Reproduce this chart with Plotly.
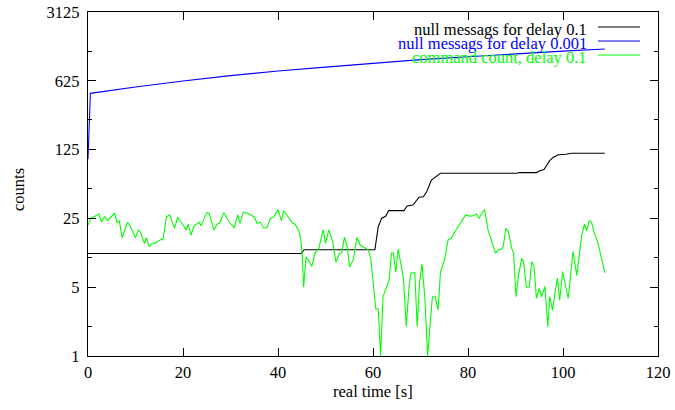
import plotly.graph_objects as go

# ---- data -------------------------------------------------------------
# null messages, delay 0.1
null_01_t = [0.0, 44.9, 45.5, 60.4, 61.1, 61.8, 62.7, 63.3, 66.5, 67.2, 68.4,
             69.7, 70.6, 71.3, 72.3, 73.4, 74.2, 90.2, 90.8, 94.4, 95.1, 96.0,
             97.2, 97.9, 99.0, 100.6, 101.8, 108.8]
null_01_v = [11, 11, 12, 12, 20.6, 25, 26.4, 30, 30, 33.4, 34.2,
             41, 41.5, 46.7, 61.4, 67.3, 71.8, 71.8, 73, 73, 76.3, 78.6,
             96.5, 104, 111, 112, 114.6, 114.6]

# null messages, delay 0.001
null_0001_t = [0.0, 0.5, 10, 20, 30, 40, 50, 60, 70, 80, 90, 100, 108.8]
null_0001_v = [100, 466, 540, 623, 705, 786, 860, 940, 1025, 1098, 1180, 1250, 1315]

# command count, delay 0.1
cmd_t = [0.0, 0.6, 2.3, 2.8, 3.5, 4.1, 5.6, 6.1, 6.6, 7.2, 8.3, 8.8, 10.0, 10.6,
         11.0, 11.9, 12.3, 12.9, 13.5, 14.2, 15.5, 15.8, 16.5, 17.2, 18.2, 18.9,
         20.0, 20.7, 21.1, 21.7, 22.3, 23.4, 23.8, 25.0, 25.5, 26.5, 27.2, 27.7,
         28.6, 29.7, 30.8, 31.5, 32.0, 32.7, 34.0, 35.0, 35.6, 36.3, 37.0, 37.7,
         38.0, 38.4, 39.1, 40.0, 40.7, 41.2, 42.1, 43.1, 43.6, 44.4, 44.8, 45.1,
         45.4, 45.9, 46.6, 47.1, 47.8, 48.6, 49.5, 50.0, 50.7, 51.5, 52.2, 53.0,
         53.4, 54.0, 54.5, 55.1, 55.9, 56.6, 57.3, 58.3, 59.0, 59.5, 59.9, 60.6,
         61.1, 61.6, 62.1, 63.0, 63.4, 63.9, 64.3, 64.8, 65.3, 66.4, 67.0, 67.6,
         68.0, 68.8, 69.3, 69.8, 70.3, 70.9, 71.5, 72.0, 72.5, 73.1, 73.7, 74.2,
         75.1, 75.8, 76.5, 77.2, 77.7, 78.6, 79.5, 80.4, 81.0, 81.8, 82.3, 83.1,
         83.5, 84.2, 85.0, 85.8, 86.4, 87.0, 87.4, 88.0, 88.5, 89.2, 89.6, 90.1,
         90.6, 91.3, 91.7, 92.3, 92.9, 93.4, 93.9, 94.4, 95.0, 95.5, 96.2, 96.8,
         97.2, 97.8, 98.8, 99.3, 99.9, 101.1, 102.1, 102.9, 103.9, 104.5, 105.0,
         105.5, 106.0, 106.6, 107.3, 108.0, 108.8]
cmd_v = [21.4, 25.0, 27.7, 23.1, 26.0, 23.7, 28.2, 22.8, 23.5, 15.9, 22.8, 21.4, 15.9, 19.1,
         18.3, 13.9, 15.9, 12.9, 13.9, 14.1, 15.4, 15.1, 26.0, 27.1, 19.8, 25.7,
         21.4, 19.1, 21.9, 16.9, 20.9, 22.8, 21.0, 28.6, 28.2, 19.1, 21.9, 22.3,
         28.6, 23.1, 20.0, 27.1, 22.3, 28.9, 27.7, 25.7, 22.3, 22.8, 20.0, 20.2,
         22.3, 25.0, 26.0, 30.7, 23.7, 29.9, 26.0, 22.3, 21.8, 18.6, 15.1, 10.6,
         5.0, 10.2, 9.1, 8.1, 11.1, 12.4, 19.1, 13.9, 19.1, 14.5, 9.0, 11.1,
         11.2, 16.1, 13.4, 8.0, 9.7, 16.1, 13.4, 12.7, 12.0, 9.9, 6.2, 3.0,
         3.0, 1.0, 4.0, 5.3, 5.9, 11.1, 11.1, 7.1, 12.2, 6.2, 2.0, 5.1,
         7.0, 7.0, 2.0, 5.5, 8.6, 4.0, 1.0, 2.0, 4.0, 4.0, 2.93, 7.1,
         9.7, 15.1, 15.8, 18.2, 19.9, 23.1, 27.1, 26.4, 26.6, 27.7, 25.0, 29.2,
         30.7, 19.1, 14.5, 11.1, 12.0, 12.1, 12.9, 19.8, 18.3, 12.4, 11.1, 4.0,
         6.4, 9.8, 9.1, 5.0, 5.0, 9.1, 8.1, 3.86, 4.87, 4.0, 5.1, 2.0,
         4.0, 2.93, 6.2, 3.7, 7.2, 3.86, 11.5, 6.6, 16.3, 21.9, 18.7,
         23.7, 23.1, 17.6, 14.5, 10.2, 7.0]

series_names = ["null messags for delay 0.1",
                "null messags for delay 0.001",
                "command count, delay 0.1"]
series_colors = ["#000000", "#0000ff", "#00ff00"]

y_ticks = [1, 5, 25, 125, 625, 3125]
y_minor = [2, 10, 50, 250, 1250]
x_ticks = [0, 20, 40, 60, 80, 100, 120]

# ---- layout geometry (pixels) -----------------------------------------
W, H = 675, 410
ML, MR, MT, MB = 88, 17, 12, 54
PW, PH = W - ML - MR, H - MT - MB


def px_x(px):
    return (px - ML) / PW


def px_y(py):
    return (H - MB - py) / PH


FONT = "Times New Roman, Times, Liberation Serif, DejaVu Serif, serif"
FS = 16.5

fig = go.Figure()
for t, v, c, n in [(null_01_t, null_01_v, series_colors[0], series_names[0]),
                   (null_0001_t, null_0001_v, series_colors[1], series_names[1]),
                   (cmd_t, cmd_v, series_colors[2], series_names[2])]:
    fig.add_trace(go.Scatter(x=t, y=v, mode="lines", name=n,
                             line=dict(color=c, width=1.1), showlegend=False))

# key: right-aligned text with a line sample to its right
key_rows = [29.5, 43.5, 57.5]
annotations = []
shapes = []
for i, (n, c) in enumerate(zip(series_names, series_colors)):
    py = key_rows[i]
    annotations.append(dict(xref="paper", yref="paper", x=px_x(589), y=px_y(py),
                            xanchor="right", yanchor="middle", showarrow=False,
                            text=n, font=dict(family=FONT, size=FS, color=c)))
    shapes.append(dict(type="line", xref="paper", yref="paper",
                       x0=px_x(598), x1=px_x(640), y0=px_y(py - 2.5), y1=px_y(py - 2.5),
                       line=dict(color=c, width=1.1)))

# axis titles
annotations.append(dict(xref="paper", yref="paper", x=0, y=px_y(190), xshift=18 - ML,
                        xanchor="center", yanchor="middle", textangle=-90,
                        showarrow=False, text="counts",
                        font=dict(family=FONT, size=FS, color="black")))
annotations.append(dict(xref="paper", yref="paper", x=0.5, y=px_y(391),
                        xanchor="center", yanchor="middle", showarrow=False,
                        text="real time [s]",
                        font=dict(family=FONT, size=FS, color="black")))

axis_common = dict(showline=True, linecolor="black", linewidth=1.3, mirror="allticks",
                   ticks="inside", ticklen=8, tickwidth=1, tickcolor="black",
                   showgrid=False, zeroline=False, automargin=False,
                   tickfont=dict(family=FONT, size=FS, color="black"))

fig.update_layout(
    width=W, height=H,
    margin=dict(l=ML, r=MR, t=MT, b=MB, pad=0, autoexpand=False),
    paper_bgcolor="white", plot_bgcolor="white",
    font=dict(family=FONT, size=FS, color="black"),
    xaxis=dict(range=[0, 120], tickvals=x_ticks, ticklabelstandoff=1, **axis_common),
    yaxis=dict(type="log", range=[0, 3.49485], tickvals=y_ticks,
               ticktext=[str(v) for v in y_ticks], ticklabelstandoff=4,
               minor=dict(tickvals=y_minor, ticks="inside", ticklen=4,
                          tickwidth=1, tickcolor="black"),
               **axis_common),
    annotations=annotations,
    shapes=shapes,
)

fig.write_html("out.html")
